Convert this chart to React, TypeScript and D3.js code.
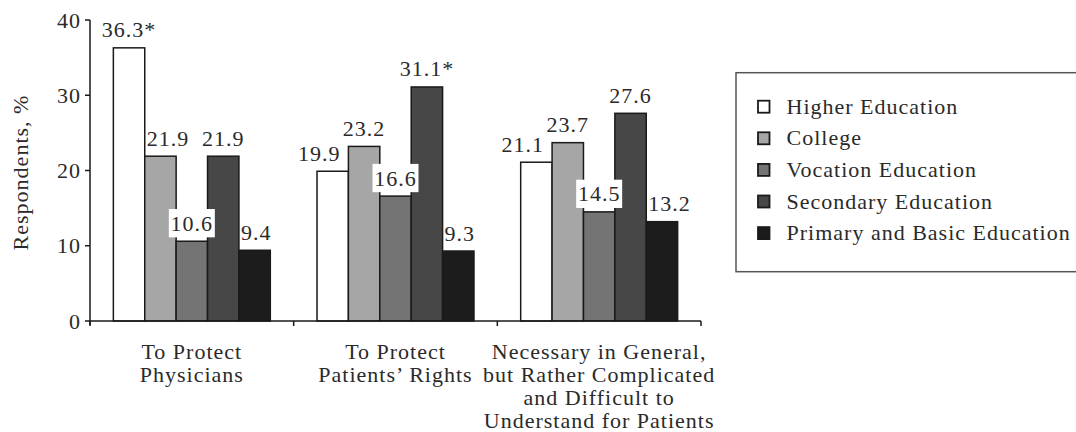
import React from "react";
import * as d3 from "d3";

// ---------- data ----------
const categories = ["To Protect Physicians", "To Protect Patients' Rights", "Necessary in General"];
const categoryLines = [
  ["To Protect", "Physicians"],
  ["To Protect", "Patients\u2019 Rights"],
  ["Necessary in General,", "but Rather Complicated", "and Difficult to", "Understand for Patients"],
];
const seriesNames = [
  "Higher Education",
  "College",
  "Vocation Education",
  "Secondary Education",
  "Primary and Basic Education",
];
const higherValues = [36.3, 19.9, 21.1];
const collegeValues = [21.9, 23.2, 23.7];
const vocationValues = [10.6, 16.6, 14.5];
const secondaryValues = [21.9, 31.1, 27.6];
const primaryValues = [9.4, 9.3, 13.2];
const higherSignificant = [true, false, false];
const collegeSignificant = [false, false, false];
const vocationSignificant = [false, false, false];
const secondarySignificant = [false, true, false];
const primarySignificant = [false, false, false];
const yTicks = [0, 10, 20, 30, 40];
const yLabel = "Respondents, %";

const seriesValues = [higherValues, collegeValues, vocationValues, secondaryValues, primaryValues];
const seriesSignificant = [
  higherSignificant,
  collegeSignificant,
  vocationSignificant,
  secondarySignificant,
  primarySignificant,
];
const colors = ["#ffffff", "#a6a6a6", "#747474", "#474747", "#1c1c1c"];

// ---------- layout ----------
const W = 1076;
const H = 432;
const left = 90;
const right = 701;
const top = 20;
const bottom = 321;
const FONT = '"Liberation Serif", "Times New Roman", serif';
const FS = 22;
const LS = 1;
const TEXT = "#2a2a2a";
const textStyle: React.CSSProperties = { fontFamily: FONT, fontSize: FS, letterSpacing: LS };

export default function App() {
  const x = d3.scaleBand<string>().domain(categories).range([left, right]).paddingInner(0).paddingOuter(0);
  const xs = d3
    .scaleBand<string>()
    .domain(seriesNames)
    .range([0, x.bandwidth()])
    .paddingInner(0)
    .paddingOuter(0.744);
  const y = d3.scaleLinear().domain([0, 40]).range([bottom, top]);

  const bars: any[] = [];
  const labels: any[] = [];
  categories.forEach((cat, ci) => {
    seriesNames.forEach((s, si) => {
      const v = seriesValues[si][ci];
      const bx = (x(cat) as number) + (xs(s) as number);
      const bw = xs.bandwidth();
      bars.push(
        <rect
          key={`b-${ci}-${si}`}
          x={bx}
          y={y(v)}
          width={bw}
          height={y(0) - y(v)}
          fill={colors[si]}
          stroke="#1a1a1a"
          strokeWidth={1.5}
        />
      );
      const prev = si > 0 ? seriesValues[si - 1][ci] : -Infinity;
      const next = si < seriesNames.length - 1 ? seriesValues[si + 1][ci] : -Infinity;
      const text = v.toFixed(1) + (seriesSignificant[si][ci] ? "*" : "");
      const base = y(v) - 10.5;
      let anchor = "middle";
      let tx = bx + bw / 2;
      let boxed = false;
      if (prev > v && next > v) {
        boxed = true;
      } else if (prev > v) {
        anchor = "start";
        tx = bx + 2;
      } else if (next > v) {
        anchor = "end";
        tx = bx + bw - 8;
      }
      const approxW = text.length * 11.5;
      labels.push(
        <g key={`l-${ci}-${si}`}>
          {boxed && (
            <rect x={tx - approxW / 2} y={base - 21.7} width={approxW} height={28.3} fill="#ffffff" />
          )}
          <text x={tx} y={base} textAnchor={anchor} style={textStyle} fill={TEXT}>
            {text}
          </text>
        </g>
      );
    });
  });

  const bandEdges = [...categories.map((c) => x(c) as number), right];

  const legendX = 736;
  const legendY = 72.7;
  const rowH = 31.6;

  return (
    <svg width={W} height={H} style={{ position: "absolute", left: 0, top: 0, background: "#fff" }}>
      <rect x={0} y={0} width={W} height={H} fill="#ffffff" />
      {bars}
      {/* y axis */}
      <line x1={left} x2={left} y1={top} y2={bottom + 4} stroke="#1a1a1a" strokeWidth={1.5} />
      {yTicks.map((t) => (
        <g key={`yt-${t}`}>
          <line x1={left - 5} x2={left} y1={y(t)} y2={y(t)} stroke="#1a1a1a" strokeWidth={1.5} />
          <text x={left - 9} y={y(t) + 7.5} textAnchor="end" style={textStyle} fill={TEXT}>
            {t}
          </text>
        </g>
      ))}
      {/* x axis */}
      <line x1={left} x2={right} y1={bottom} y2={bottom} stroke="#1a1a1a" strokeWidth={1.5} />
      {bandEdges.map((e, i) => (
        <line key={`xt-${i}`} x1={e} x2={e} y1={bottom} y2={bottom + 5} stroke="#1a1a1a" strokeWidth={1.5} />
      ))}
      {labels}
      {categories.map((c, ci) => (
        <text key={`xl-${ci}`} textAnchor="middle" style={textStyle} fill={TEXT}>
          {categoryLines[ci].map((ln, li) => (
            <tspan key={li} x={(x(c) as number) + x.bandwidth() / 2} y={358.5 + li * 23.2}>
              {ln}
            </tspan>
          ))}
        </text>
      ))}
      {/* y label */}
      <text
        transform={`translate(28, ${(top + bottom) / 2 + 2}) rotate(-90)`}
        textAnchor="middle"
        style={textStyle}
        fill={TEXT}
      >
        {yLabel}
      </text>
      {/* legend */}
      <rect x={legendX} y={legendY} width={400} height={199} fill="none" stroke="#555555" strokeWidth={1.5} />
      {seriesNames.map((s, si) => {
        const cy = 106.7 + si * rowH;
        return (
          <g key={`lg-${si}`}>
            <rect
              x={758}
              y={cy - 6}
              width={11.5}
              height={12}
              fill={colors[si]}
              stroke="#1a1a1a"
              strokeWidth={1.8}
            />
            <text x={786.5} y={cy + 7} style={textStyle} fill={TEXT}>
              {s}
            </text>
          </g>
        );
      })}
    </svg>
  );
}
